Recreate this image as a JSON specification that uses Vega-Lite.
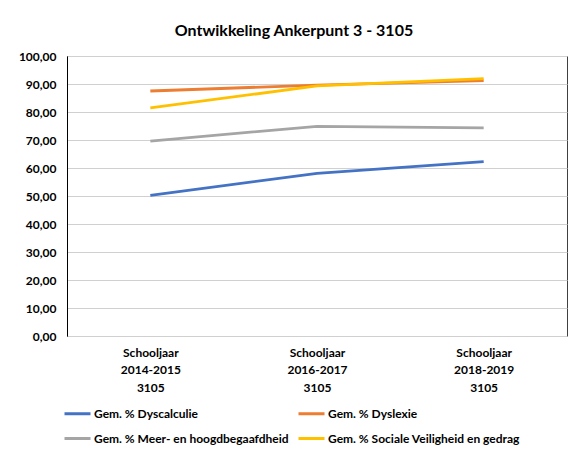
{
  "$schema": "https://vega.github.io/schema/vega-lite/v6.json",
  "autosize": "none",
  "width": 500,
  "height": 280,
  "padding": {"left": 67, "top": 56, "right": 12, "bottom": 116},
  "background": "white",
  "title": {
    "text": "Ontwikkeling Ankerpunt 3 - 3105",
    "font": "Lato",
    "fontSize": 16,
    "fontWeight": "bold",
    "color": "#000000",
    "anchor": "middle",
    "dx": -23,
    "offset": 11
  },
  "data": {
    "values": [
      {"jaar": "Schooljaar 2014-2015 3105", "reeks": "Gem. % Dyscalculie", "waarde": 50.2},
      {"jaar": "Schooljaar 2016-2017 3105", "reeks": "Gem. % Dyscalculie", "waarde": 58.1},
      {"jaar": "Schooljaar 2018-2019 3105", "reeks": "Gem. % Dyscalculie", "waarde": 62.3},
      {"jaar": "Schooljaar 2014-2015 3105", "reeks": "Gem. % Dyslexie", "waarde": 87.5},
      {"jaar": "Schooljaar 2016-2017 3105", "reeks": "Gem. % Dyslexie", "waarde": 89.6},
      {"jaar": "Schooljaar 2018-2019 3105", "reeks": "Gem. % Dyslexie", "waarde": 91.2},
      {"jaar": "Schooljaar 2014-2015 3105", "reeks": "Gem. % Meer- en hoogdbegaafdheid", "waarde": 69.6},
      {"jaar": "Schooljaar 2016-2017 3105", "reeks": "Gem. % Meer- en hoogdbegaafdheid", "waarde": 74.9},
      {"jaar": "Schooljaar 2018-2019 3105", "reeks": "Gem. % Meer- en hoogdbegaafdheid", "waarde": 74.3},
      {"jaar": "Schooljaar 2014-2015 3105", "reeks": "Gem. % Sociale Veiligheid en gedrag", "waarde": 81.5},
      {"jaar": "Schooljaar 2016-2017 3105", "reeks": "Gem. % Sociale Veiligheid en gedrag", "waarde": 89.3},
      {"jaar": "Schooljaar 2018-2019 3105", "reeks": "Gem. % Sociale Veiligheid en gedrag", "waarde": 91.9}
    ]
  },
  "mark": {"type": "line", "strokeWidth": 2.8},
  "encoding": {
    "x": {
      "field": "jaar",
      "type": "nominal",
      "sort": null,
      "scale": {"paddingInner": 0, "paddingOuter": 0},
      "axis": {
        "title": null,
        "labelAngle": 0,
        "labelExpr": "split(datum.label, ' ')",
        "labelFont": "Lato",
        "labelFontSize": 12,
        "labelFontWeight": "bold",
        "labelColor": "#000000",
        "labelLineHeight": 17.5,
        "labelPadding": 11,
        "ticks": false,
        "domain": false,
        "grid": false
      }
    },
    "y": {
      "field": "waarde",
      "type": "quantitative",
      "scale": {"domain": [0, 100], "nice": false},
      "axis": {
        "title": null,
        "values": [0, 10, 20, 30, 40, 50, 60, 70, 80, 90, 100],
        "labelExpr": "replace(format(datum.value, '.2f'), '.', ',')",
        "labelFont": "Lato",
        "labelFontSize": 12,
        "labelFontWeight": "bold",
        "labelColor": "#000000",
        "labelPadding": 11,
        "ticks": false,
        "domain": true,
        "domainColor": "#000000",
        "gridColor": "#d0d0d0",
        "gridWidth": 1
      }
    },
    "color": {
      "field": "reeks",
      "type": "nominal",
      "scale": {
        "domain": ["Gem. % Dyscalculie", "Gem. % Dyslexie", "Gem. % Meer- en hoogdbegaafdheid", "Gem. % Sociale Veiligheid en gedrag"],
        "range": ["#4472C4", "#ED7D31", "#A5A5A5", "#FFC000"]
      },
      "legend": {
        "title": null,
        "orient": "none",
        "direction": "horizontal",
        "legendX": -4,
        "legendY": 343,
        "columns": 2,
        "columnPadding": 3,
        "rowPadding": 4,
        "symbolType": "stroke",
        "symbolSize": 676,
        "symbolStrokeWidth": 3,
        "labelFont": "Lato",
        "labelFontSize": 12,
        "labelFontWeight": "bold",
        "labelColor": "#000000",
        "labelOffset": 2,
        "labelLimit": 300
      }
    }
  },
  "config": {
    "view": {"stroke": "#404040", "strokeWidth": 1}
  }
}
